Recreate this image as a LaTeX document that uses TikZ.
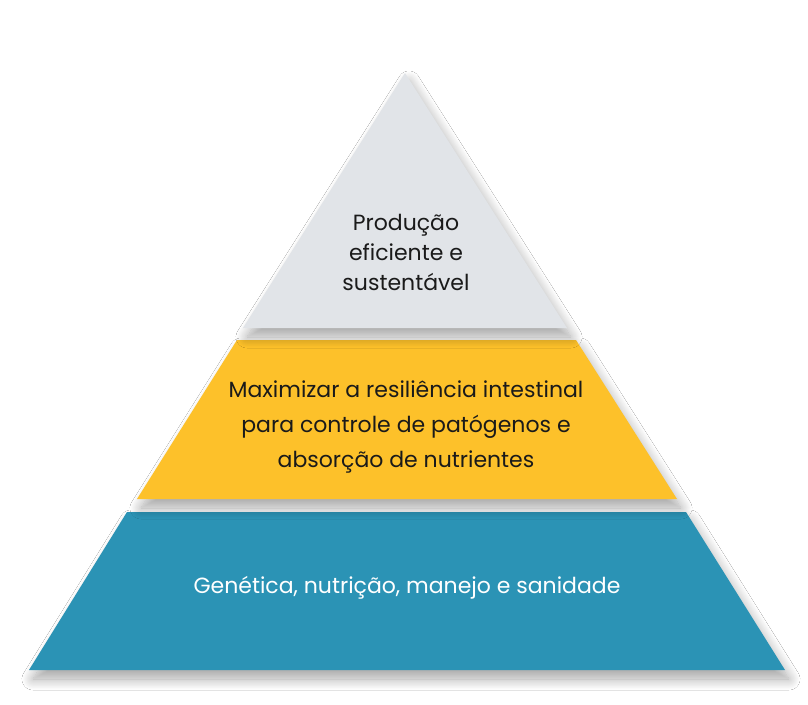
\documentclass[tikz,border=0pt]{standalone}
\usepackage{fontspec}
\setmainfont{Poppins}
\usetikzlibrary{shadows.blur}

\definecolor{peakgrey}{HTML}{E1E4E8}
\definecolor{midyellow}{HTML}{FDC12A}
\definecolor{baseblue}{HTML}{2B93B5}
\definecolor{inkdark}{HTML}{1A1A1A}

\tikzset{
	level/.style = {blur shadow = {shadow xshift = 4pt, shadow yshift = -9pt, shadow blur radius = 11pt, shadow blur steps = 16, shadow opacity = 35}},
	leveltext/.style = {align = center, inner sep = 0pt, anchor = base, font = \fontsize{22}{30}\selectfont, text = inkdark}
}

\begin{document}
\begin{tikzpicture}[x = 1pt, y = -1pt]

	\useasboundingbox [fill = white] (0, 0) rectangle (808, 704);

	% Pyramid levels

	\fill [level, baseblue] (127, 512) -- (686, 512) -- (785, 670) -- (29, 670) -- cycle;
	\fill [level, midyellow] (237, 340) -- (576, 340) -- (677, 499) -- (137, 499) -- cycle;
	\fill [level, peakgrey] (405, 73) -- (567, 328) -- (243, 328) -- cycle;

	% Level texts

	\node [leveltext] (peak) at (406, 290) {Produção\\eficiente e\\sustentável};
	\node [leveltext, font = \fontsize{22}{35}\selectfont] (middle) at (406, 467) {Maximizar a resiliência intestinal\\para controle de patógenos e\\absorção de nutrientes};
	\node [leveltext, text = white] (base) at (407, 593) {Genética, nutrição, manejo e sanidade};

\end{tikzpicture}
\end{document}
